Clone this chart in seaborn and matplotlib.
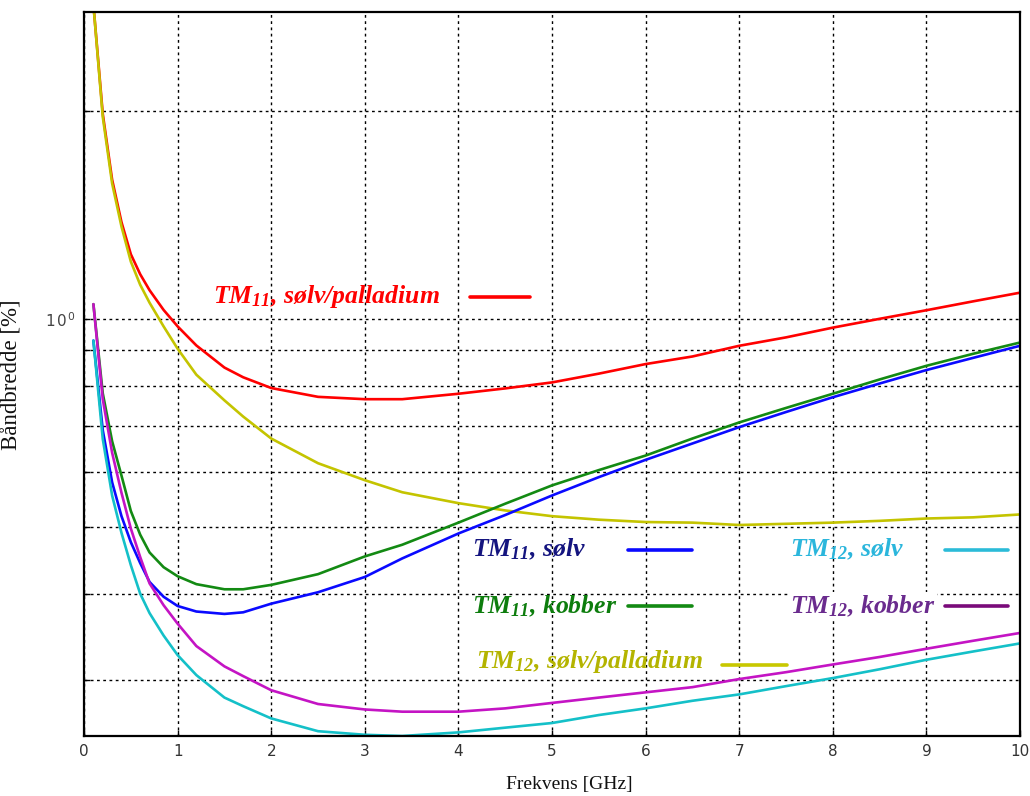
import matplotlib
matplotlib.use("Agg")
import matplotlib.pyplot as plt
from matplotlib import font_manager
from matplotlib.lines import Line2D
from matplotlib.ticker import NullFormatter
import pandas as pd
import seaborn as sns

# Frequency samples [GHz]
freq_ghz = [0.1, 0.2, 0.3, 0.4, 0.5, 0.6, 0.7, 0.85, 1.0, 1.2, 1.5, 1.7, 2.0,
            2.5, 3.0, 3.4, 4.0, 4.5, 5.0, 5.5, 6.0, 6.5, 7.0, 7.5, 8.0, 8.5,
            9.0, 9.5, 10.0]

# Bandwidth [%] for each mode / metallisation
tm11_solv_palladium = [2.85, 1.98, 1.59, 1.38, 1.24, 1.16, 1.10, 1.03, 0.975,
                       0.915, 0.85, 0.823, 0.794, 0.771, 0.765, 0.765, 0.779,
                       0.793, 0.809, 0.833, 0.860, 0.882, 0.914, 0.94, 0.971,
                       1.0, 1.029, 1.06, 1.091]
tm12_solv_palladium = [2.85, 1.96, 1.57, 1.36, 1.21, 1.12, 1.055, 0.975, 0.905,
                       0.83, 0.762, 0.722, 0.671, 0.618, 0.584, 0.561, 0.541,
                       0.528, 0.518, 0.512, 0.508, 0.507, 0.503, 0.505, 0.507,
                       0.51, 0.514, 0.516, 0.521]
tm11_kobber = [1.05, 0.78, 0.665, 0.593, 0.527, 0.487, 0.459, 0.437, 0.424,
               0.413, 0.406, 0.406, 0.412, 0.427, 0.453, 0.471, 0.507, 0.54,
               0.574, 0.604, 0.634, 0.671, 0.708, 0.743, 0.779, 0.817, 0.855,
               0.89, 0.924]
tm11_solv = [0.93, 0.69, 0.58, 0.518, 0.475, 0.443, 0.416, 0.396, 0.384,
             0.377, 0.374, 0.376, 0.387, 0.402, 0.423, 0.450, 0.489, 0.52,
             0.555, 0.59, 0.625, 0.66, 0.697, 0.733, 0.770, 0.806, 0.843,
             0.878, 0.914]
tm12_kobber = [1.05, 0.765, 0.64, 0.56, 0.497, 0.452, 0.414, 0.385, 0.362,
               0.336, 0.314, 0.304, 0.290, 0.277, 0.272, 0.270, 0.270, 0.273,
               0.278, 0.283, 0.288, 0.293, 0.301, 0.308, 0.316, 0.324, 0.333,
               0.342, 0.351]
tm12_solv = [0.93, 0.67, 0.555, 0.49, 0.44, 0.40, 0.375, 0.348, 0.326,
             0.305, 0.283, 0.275, 0.264, 0.253, 0.250, 0.249, 0.252, 0.256,
             0.260, 0.267, 0.273, 0.280, 0.286, 0.294, 0.302, 0.311, 0.321,
             0.330, 0.339]

series_order = ["TM11 sølv/palladium", "TM12 sølv/palladium", "TM11 kobber",
                "TM11 sølv", "TM12 kobber", "TM12 sølv"]
series_values = [tm11_solv_palladium, tm12_solv_palladium, tm11_kobber,
                 tm11_solv, tm12_kobber, tm12_solv]
line_colors = ["#ff0000", "#c4c400", "#138a13", "#0a0aff", "#c414c4", "#14c0c8"]

# Legend entries: label text, text colour, key colour
legend_labels = ["$TM_{11}$, sølv/palladium", "$TM_{11}$, sølv", "$TM_{11}$, kobber",
                 "$TM_{12}$, sølv/palladium", "$TM_{12}$, sølv", "$TM_{12}$, kobber"]
legend_text_colors = ["#ff0000", "#14147f", "#0d7d0d", "#b4b400", "#2bb6dc", "#6a2b8e"]
legend_key_colors = ["#ff0000", "#0a0aff", "#138a13", "#c8c800", "#2bbbd8", "#7a0a7a"]

x_ticks = list(range(0, 11))

df = pd.concat(
    [pd.DataFrame({"freq": freq_ghz, "bw": vals, "series": name})
     for name, vals in zip(series_order, series_values)],
    ignore_index=True)

sns.set_style("ticks")
names = {f.name for f in font_manager.fontManager.ttflist}
tick_font = "Liberation Sans Narrow" if "Liberation Sans Narrow" in names else "DejaVu Sans"
plt.rcParams["font.family"] = ["Liberation Serif", "DejaVu Serif"]
plt.rcParams["mathtext.fontset"] = "custom"
plt.rcParams["mathtext.rm"] = "Liberation Serif:italic:bold"
plt.rcParams["mathtext.it"] = "Liberation Serif:italic:bold"
plt.rcParams["mathtext.bf"] = "Liberation Serif:italic:bold"
plt.rcParams["mathtext.sf"] = tick_font

fig = plt.figure(figsize=(10.3, 7.96), dpi=100)
ax = fig.add_axes([0.0816, 0.0754, 0.9087, 0.9095])

palette = dict(zip(series_order, line_colors))
sns.lineplot(data=df, x="freq", y="bw", hue="series", hue_order=series_order,
             palette=palette, estimator=None, sort=False, linewidth=1.9,
             legend=False, ax=ax)

ax.set_yscale("log")
ax.set_xlim(0, 10)
ax.set_ylim(0.249, 2.78)

ax.set_xticks(x_ticks)
ax.set_xticklabels([str(t) for t in x_ticks], fontfamily=tick_font,
                   fontsize=11, color="#333333")
ax.set_yticks([1.0])
ax.set_yticklabels([r"$\mathsf{1\,0^{\,0}}$"], fontsize=11, color="#444444")
ax.set_yticks([0.3, 0.4, 0.5, 0.6, 0.7, 0.8, 0.9, 2.0], minor=True)
ax.yaxis.set_minor_formatter(NullFormatter())
ax.tick_params(axis="both", which="both", direction="in", length=4,
               width=1, color="black", pad=6)

grid_style = dict(color="black", linestyle=(0, (2, 2.5)), linewidth=1.0)
ax.grid(True, which="major", axis="both", **grid_style)
ax.grid(True, which="minor", axis="y", **grid_style)

for sp in ax.spines.values():
    sp.set_visible(True)
    sp.set_color("black")
    sp.set_linewidth(1.6)

ax.set_xlabel("Frekvens [GHz]", fontsize=14, fontfamily="Liberation Serif",
              color="#111111")
ax.xaxis.set_label_coords(0.518, -0.055)
ax.set_ylabel("Båndbredde [%]", fontsize=16.5, fontfamily="Liberation Serif",
              color="#111111")
ax.yaxis.set_label_coords(-0.066, 0.499)

# Hand-placed legend: text + short key line, in axes fractions
text_pos = [(0.1378, 0.6064), (0.4145, 0.2583), (0.4145, 0.1796),
            (0.4188, 0.1022), (0.7543, 0.2583), (0.7543, 0.1796)]
key_pos = [(0.4124, 0.4765, 0.6064), (0.5812, 0.6496, 0.2569),
           (0.5812, 0.6496, 0.1796), (0.6816, 0.7511, 0.0981),
           (0.9199, 0.9872, 0.2569), (0.9199, 0.9872, 0.1796)]
for i, (lab, tc, kc) in enumerate(zip(legend_labels, legend_text_colors,
                                       legend_key_colors)):
    tx, ty = text_pos[i]
    bbox = None
    if i == 5:
        bbox = dict(facecolor="white", edgecolor="none", pad=1.0)
    ax.text(tx, ty, lab, transform=ax.transAxes, ha="left", va="center",
            fontsize=18.5, fontfamily="Liberation Serif", fontweight="bold",
            fontstyle="italic", color=tc, bbox=bbox, zorder=5)
    x0, x1, ky = key_pos[i]
    ax.add_line(Line2D([x0, x1], [ky, ky], transform=ax.transAxes,
                       color=kc, linewidth=2.6, zorder=5))

fig.savefig("out.png", dpi=100)
